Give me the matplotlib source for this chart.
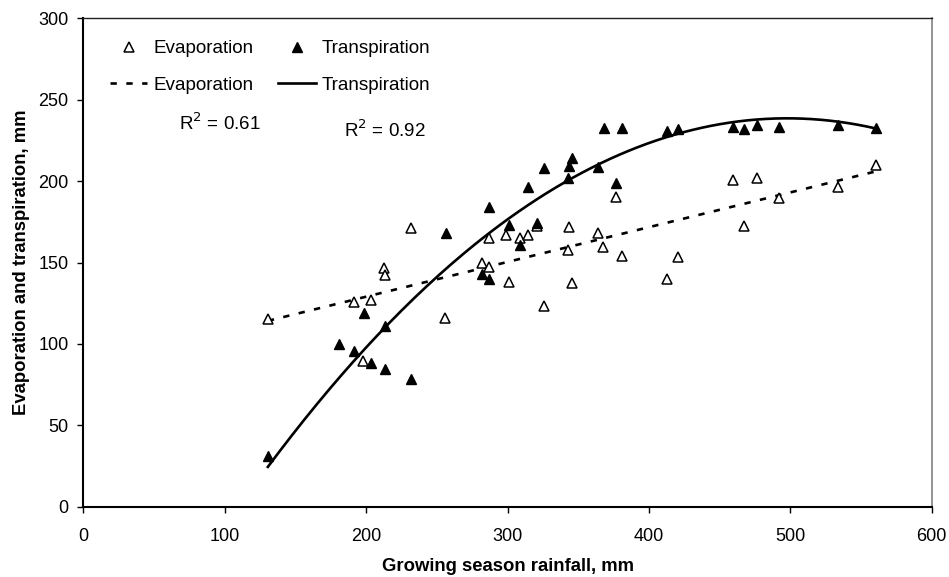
import numpy as np
import matplotlib
matplotlib.use("Agg")
import matplotlib.pyplot as plt
from matplotlib.lines import Line2D

plt.rcParams['font.family'] = ['Liberation Sans', 'DejaVu Sans']

# Data
evap_x = [130.5, 191.1, 198.0, 203.4, 212.6, 213.5, 231.4, 256.0, 281.9, 287.1, 287.1,
          299.2, 301.3, 308.6, 314.7, 320.9, 326.0, 342.5, 343.3, 345.4, 363.8, 367.8,
          376.8, 380.8, 412.6, 420.9, 459.6, 467.4, 476.1, 491.9, 533.4, 560.3]
evap_y = [115.2, 125.6, 89.7, 127.0, 146.7, 142.4, 171.0, 116.0, 149.5, 165.1, 147.1,
          166.9, 138.3, 164.8, 166.7, 172.4, 123.0, 157.9, 172.0, 137.5, 167.9, 159.7,
          190.2, 153.8, 140.0, 153.6, 200.8, 172.2, 201.8, 189.6, 196.1, 209.8]

transp_x = [130.5, 181.0, 191.1, 198.2, 203.6, 213.0, 213.7, 231.4, 256.2, 281.9, 287.1,
            287.1, 301.3, 308.6, 314.7, 320.9, 326.0, 342.5, 343.5, 345.4, 363.8, 368.0,
            376.8, 380.8, 412.6, 420.9, 459.3, 467.4, 476.1, 491.9, 533.4, 560.3]
transp_y = [31.3, 100.0, 95.6, 118.9, 88.5, 84.8, 111.1, 78.3, 167.9, 143.0, 184.3,
            139.9, 173.2, 161.0, 196.3, 174.0, 208.0, 201.8, 209.0, 214.1, 208.8, 232.5,
            198.8, 232.8, 230.8, 232.0, 233.3, 232.0, 234.5, 233.3, 234.3, 232.5]

# Trendline coefficients (as drawn in the reference)
evap_trend = [0.2135, 86.3]                # linear: slope, intercept
transp_trend = [-0.001587, 1.5800, -154.7]  # quadratic
r2_labels = ["R$^2$ = 0.61", "R$^2$ = 0.92"]

fig = plt.figure(figsize=(9.49, 5.77), dpi=100)
ax = fig.add_axes([0.0878, 0.1218, 0.8940, 0.8465])

ax.set_xlim(0, 600)
ax.set_ylim(0, 300)

ms = 6.8
dash = (0, (2.4, 3.6))
ax.plot(evap_x, evap_y, linestyle='none', marker='^', markersize=ms,
        markerfacecolor='white', markeredgecolor='black', markeredgewidth=1.1, zorder=3)
ax.plot(transp_x, transp_y, linestyle='none', marker='^', markersize=ms,
        markerfacecolor='black', markeredgecolor='black', zorder=3)

xe = np.linspace(min(evap_x), max(evap_x), 200)
ax.plot(xe, np.polyval(evap_trend, xe), color='black', linestyle=dash, linewidth=1.9, zorder=2)
xt = np.linspace(min(transp_x), max(transp_x), 200)
ax.plot(xt, np.polyval(transp_trend, xt), color='black', linestyle='-', linewidth=1.9, zorder=2)

ax.text(67.7, 235.3, r2_labels[0], fontsize=13.5, va='center', ha='left')
ax.text(184.5, 231.0, r2_labels[1], fontsize=13.5, va='center', ha='left')

ax.set_xticks([0, 100, 200, 300, 400, 500, 600])
ax.set_yticks([0, 50, 100, 150, 200, 250, 300])
ax.tick_params(axis='both', labelsize=13, direction='out', length=4, width=1)
ax.tick_params(axis='x', pad=11)
ax.tick_params(axis='y', pad=6.5)

for s in ['left', 'bottom']:
    ax.spines[s].set_color('black')
    ax.spines[s].set_linewidth(1.5)
ax.spines['top'].set_color('#222222')
ax.spines['top'].set_linewidth(1.0)
ax.spines['right'].set_color('#808080')
ax.spines['right'].set_linewidth(1.2)

ax.set_xlabel('Growing season rainfall, mm', fontsize=13.3, fontweight='bold', labelpad=9.5)
ax.set_ylabel('Evaporation and transpiration, mm', fontsize=13.3, fontweight='bold', labelpad=6)

h1 = Line2D([], [], linestyle='none', marker='^', markersize=ms, markerfacecolor='white',
            markeredgecolor='black', markeredgewidth=1.1)
h2 = Line2D([], [], linestyle='none', marker='^', markersize=ms, markerfacecolor='black',
            markeredgecolor='black')
h3 = Line2D([], [], color='black', linestyle=dash, linewidth=1.9)
h4 = Line2D([], [], color='black', linewidth=1.9)
leg = ax.legend([h1, h3, h2, h4], ['Evaporation', 'Evaporation', 'Transpiration', 'Transpiration'],
                ncol=2, loc='upper left', bbox_to_anchor=(0.011, 0.99), frameon=False,
                fontsize=13.6, handlelength=2.0, handletextpad=0.3, columnspacing=1.3,
                labelspacing=1.0)

fig.savefig('out.png', dpi=100)
